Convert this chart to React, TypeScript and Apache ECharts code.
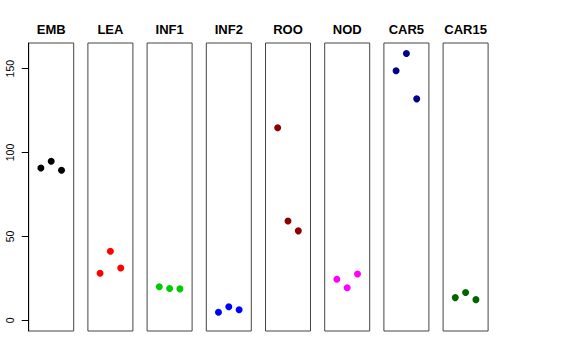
import React, { useEffect, useRef } from "react";
import * as echarts from "echarts";

const panels = ["EMB", "LEA", "INF1", "INF2", "ROO", "NOD", "CAR5", "CAR15"];
const colors = ["#000000", "#ff0000", "#00cd00", "#0000ff", "#8b0000", "#ff00ff", "#00008b", "#006400"];
const embValues = [90.8, 94.8, 89.4];
const leaValues = [28.0, 41.1, 31.2];
const inf1Values = [20.0, 18.9, 18.7];
const inf2Values = [4.8, 8.1, 6.3];
const rooValues = [114.8, 59.2, 53.3];
const nodValues = [24.4, 19.4, 27.6];
const car5Values = [148.8, 159.0, 132.0];
const car15Values = [13.5, 16.5, 12.3];
const seriesValues = [embValues, leaValues, inf1Values, inf2Values, rooValues, nodValues, car5Values, car15Values];
const yTicks = [0, 50, 100, 150];
const xPositions = [1, 2, 3];

export default function App() {
  const ref = useRef<HTMLDivElement>(null);
  useEffect(() => {
    if (!ref.current) return;
    const chart = echarts.init(ref.current, null, { renderer: "svg" });
    const left0 = 28.7;
    const step = 59.2;
    const w = 45;
    const top = 43;
    const h = 288;
    const grids = panels.map((_, i) => ({
      left: left0 + i * step,
      top,
      width: w,
      height: h,
      show: true,
      borderColor: "#444",
      borderWidth: 1,
      backgroundColor: "transparent",
    }));
    const xAxes = panels.map((_, i) => ({
      type: "value",
      gridIndex: i,
      min: -0.18,
      max: 4.18,
      show: false,
    }));
    const yAxes = panels.map((_, i) => ({
      type: "value",
      gridIndex: i,
      min: -6.4,
      max: 165.3,
      show: i === 0,
      splitLine: { show: false },
      axisLine: { show: true, onZero: false, lineStyle: { color: "#000", width: 1 } },
      axisTick: { show: true, length: 7, customValues: yTicks, lineStyle: { color: "#000" } },
      axisLabel: {
        show: true,
        customValues: yTicks,
        rotate: 90,
        margin: 13,
        fontSize: 10.5,
        color: "#000",
        fontFamily: "Liberation Sans",
      },
    }));
    const series = panels.map((_, i) => ({
      type: "scatter",
      xAxisIndex: i,
      yAxisIndex: i,
      symbolSize: 7,
      itemStyle: { color: colors[i], opacity: 1 },
      data: seriesValues[i].map((v, j) => [xPositions[j], v]),
    }));
    const graphic = panels.map((name, i) => ({
      type: "text",
      x: left0 + i * step + w / 2,
      y: 29.5,
      style: {
        text: name,
        fontSize: 13,
        fontWeight: "bold",
        fontFamily: "Liberation Sans",
        fill: "#000",
        align: "center",
        verticalAlign: "middle",
      },
    }));
    chart.setOption({
      animation: false,
      backgroundColor: "#fff",
      grid: grids,
      xAxis: xAxes,
      yAxis: yAxes,
      series,
      graphic,
    });
    return () => chart.dispose();
  }, []);
  return <div ref={ref} style={{ width: 576, height: 360, position: "absolute", left: 0, top: 0 }} />;
}
